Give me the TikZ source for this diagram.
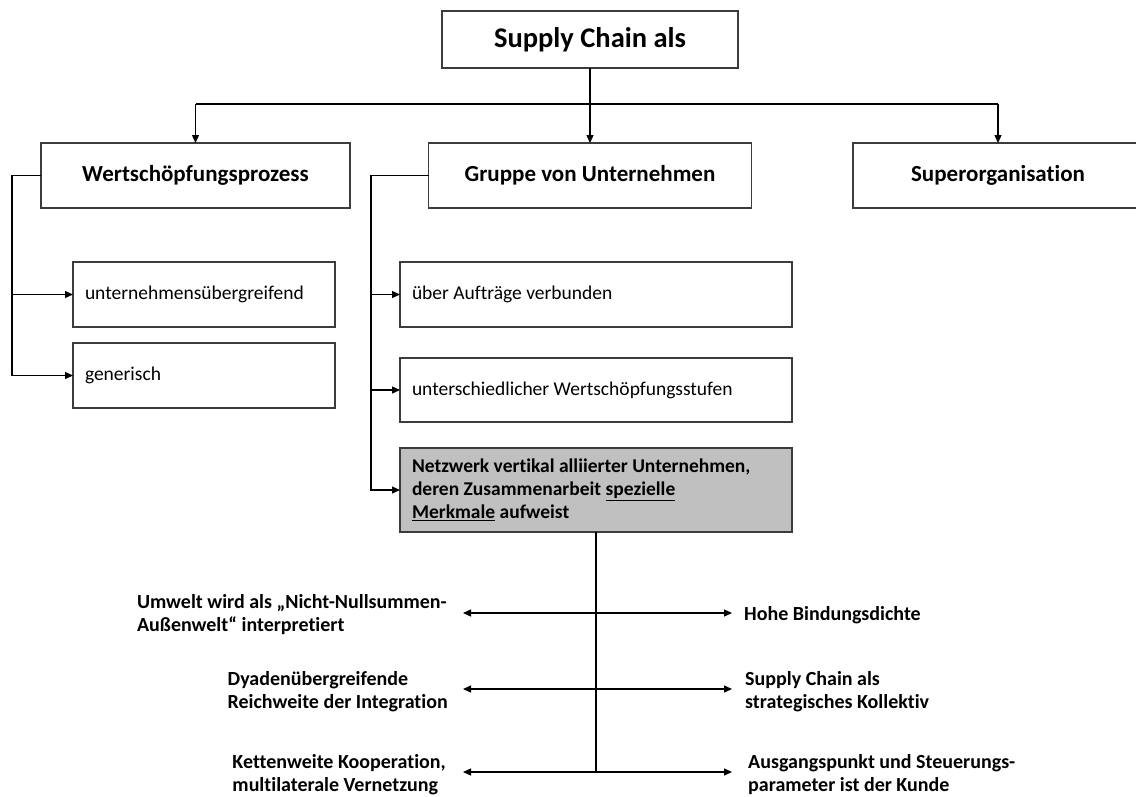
\documentclass[tikz,border=0pt]{standalone}
\usepackage{fontspec}
\setmainfont{Carlito}[Ligatures=NoCommon]
\usetikzlibrary{arrows.meta}
\definecolor{framegray}{RGB}{60,60,60}
\definecolor{fillgray}{RGB}{192,192,192}
\begin{document}
\begin{tikzpicture}[x=1pt,y=-1pt,
  box/.style={draw=framegray, line width=1.3pt, inner sep=0pt, outer sep=0pt},
  headbox/.style={box, font=\fontsize{23}{27}\selectfont\bfseries, minimum height=65pt},
  subbox/.style={box, font=\fontsize{19.5}{23}\selectfont, minimum height=65pt, align=flush left},
  lbl/.style={font=\fontsize{20}{23}\selectfont\bfseries, align=flush left, inner sep=0pt},
  conn/.style={draw=black, line width=1.3pt},
  tip/.style={conn, -{Triangle[length=8pt,width=7pt]}},
  both/.style={conn, {Triangle[length=8pt,width=7pt]}-{Triangle[length=8pt,width=7pt]}},
  spine/.style={draw=black, line width=2.4pt}]
\useasboundingbox (0,0) rectangle (1136,796);
\fill[white] (0,0) rectangle (1136,796);

% top level
\node[box, font=\fontsize{28.5}{32}\selectfont\bfseries, minimum width=296pt, minimum height=57pt] (top) at (590,39.5) {Supply Chain als};

% second level
\node[headbox, minimum width=309pt] (wsp) at (195.5,175.5) {Wertschöpfungsprozess};
\node[headbox, minimum width=323pt] (grp) at (590,175.5) {Gruppe von Unternehmen};
\node[headbox, minimum width=290pt] (sup) at (998,175.5) {Superorganisation};

% branches of Wertschöpfungsprozess
\node[subbox, minimum width=262pt, text width=238pt] (ueb) at (204,294.5) {unternehmensübergreifend};
\node[subbox, minimum width=262pt, text width=238pt] (gen) at (204,375.5) {generisch};

% branches of Gruppe von Unternehmen
\node[subbox, minimum width=392pt, text width=368pt] (auf) at (596,294.5) {über Aufträge verbunden};
\node[subbox, minimum width=392pt, text width=368pt, minimum height=64pt] (uns) at (596,390) {unterschiedlicher Wertschöpfungsstufen};
\node[subbox, fill=fillgray, font=\fontsize{19.5}{23}\selectfont\bfseries, minimum width=392pt, text width=368pt, minimum height=84pt] (net) at (596,490)
  {Netzwerk vertikal alliierter Unternehmen,\\deren Zusammenarbeit \underline{spezielle}\\\underline{Merkmale} aufweist};

% connectors from the top box
\coordinate (bus) at (590,104);
\draw[conn] (top.south) -- (bus);
\draw[conn] (wsp.north |- bus) -- (sup.north |- bus);
\draw[tip] (wsp.north |- bus) -- (wsp.north);
\draw[tip] (bus) -- (grp.north);
\draw[tip] (sup.north |- bus) -- (sup.north);

% left bracket
\coordinate (lb) at (12,0);
\draw[tip] (wsp.west) -- (lb |- wsp.west) -- (lb |- gen.west) -- (gen.west);
\draw[tip] (lb |- ueb.west) -- (ueb.west);

% middle bracket
\coordinate (mb) at (371,0);
\draw[tip] (grp.west) -- (mb |- grp.west) -- (mb |- net.west) -- (net.west);
\draw[tip] (mb |- auf.west) -- (auf.west);
\draw[tip] (mb |- uns.west) -- (uns.west);

% characteristics
\coordinate (r3) at (596,772);
\draw[spine] (net.south) -- (r3);

\node[lbl, anchor=east] (l1) at (447,615) {Umwelt wird als „Nicht-Nullsummen-\\Außenwelt“ interpretiert};
\node[lbl, anchor=east] (l2) at (448,692) {Dyadenübergreifende\\Reichweite der Integration};
\node[lbl, anchor=east] (l3) at (446,775) {Kettenweite Kooperation,\\multilaterale Vernetzung};
\node[lbl, anchor=west] (q1) at (744,615) {Hohe Bindungsdichte};
\node[lbl, anchor=west] (q2) at (745,692) {Supply Chain als\\strategisches Kollektiv};
\node[lbl, anchor=west] (q3) at (748,775) {Ausgangspunkt und Steuerungs-\\parameter ist der Kunde};

\draw[both] ([xshift=16pt]l1.east |- 0,613) -- ([xshift=-12pt]q1.west |- 0,613);
\draw[both] ([xshift=15pt]l2.east |- 0,689) -- ([xshift=-13pt]q2.west |- 0,689);
\draw[both] ([xshift=17pt]l3.east |- 0,772) -- ([xshift=-16pt]q3.west |- 0,772);
\end{tikzpicture}
\end{document}
